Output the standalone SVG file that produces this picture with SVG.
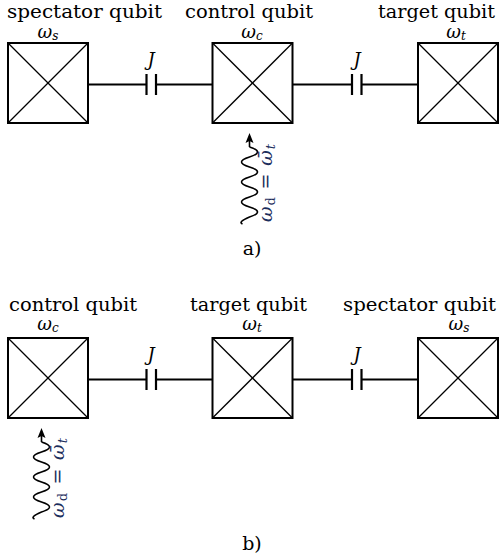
<svg xmlns="http://www.w3.org/2000/svg" width="500" height="559" viewBox="0 0 500 559">
<style>
.box{fill:#fff;stroke:#000;stroke-width:2}
.diag{stroke:#000;stroke-width:1.3}
.wire{stroke:#000;stroke-width:2;fill:none}
.plate{stroke:#000;stroke-width:2.2}
text{font-family:'DejaVu Serif','Liberation Serif',serif}
.lbl{font-size:19px;fill:#000}
.om{font-size:18px;font-style:italic;fill:#000}
.sub{font-size:12px}
.drv{font-size:19px;fill:#1c2d5c}
.wave{stroke:#000;stroke-width:1.6;fill:none}
</style>
<defs>
<g id="qb">
<rect class="box" x="0" y="0" width="80" height="80"/>
<line class="diag" x1="0" y1="0" x2="80" y2="80"/>
<line class="diag" x1="80" y1="0" x2="0" y2="80"/>
</g>
<path id="wv" class="wave" d="M0,0 Q16,5 0,10 T0,20 T0,30 T0,40 T0,50 T0,60 T0,70 Q-12,75 -7,77"/>
</defs>

<!-- panel a -->
<g id="connectors-a">
<line class="wire" x1="88" y1="84.5" x2="146.5" y2="84.5"/>
<line class="plate" x1="146.5" y1="74" x2="146.5" y2="95"/>
<line class="plate" x1="156" y1="74" x2="156" y2="95"/>
<line class="wire" x1="156" y1="84.5" x2="212" y2="84.5"/>
<line class="wire" x1="293" y1="84.5" x2="352" y2="84.5"/>
<line class="plate" x1="352" y1="74" x2="352" y2="95"/>
<line class="plate" x1="361.5" y1="74" x2="361.5" y2="95"/>
<line class="wire" x1="361.5" y1="84.5" x2="418" y2="84.5"/>
<text class="om" x="151" y="66" text-anchor="middle">J</text>
<text class="om" x="357" y="66" text-anchor="middle">J</text>
</g>
<g id="a-spectator">
<use href="#qb" x="8" y="43"/>
<text class="lbl" x="7" y="18" textLength="155" lengthAdjust="spacingAndGlyphs">spectator qubit</text>
<text class="om" x="48" y="37.5" text-anchor="middle">ω<tspan class="sub" dy="2">s</tspan></text>
</g>
<g id="a-control">
<use href="#qb" x="212.5" y="43"/>
<text class="lbl" x="185" y="18" textLength="128" lengthAdjust="spacingAndGlyphs">control qubit</text>
<text class="om" x="252" y="37.5" text-anchor="middle">ω<tspan class="sub" dy="2">c</tspan></text>
</g>
<g id="a-target">
<use href="#qb" x="418" y="43"/>
<text class="lbl" x="378" y="18" textLength="117" lengthAdjust="spacingAndGlyphs">target qubit</text>
<text class="om" x="456" y="37.5" text-anchor="middle">ω<tspan class="sub" dy="2">t</tspan></text>
</g>
<g id="a-drive">
<line class="wave" x1="249.5" y1="141" x2="249.5" y2="147"/>
<polygon points="249.5,133 245.5,143 249.5,141 253.5,143" fill="#000"/>
<use href="#wv" x="249.5" y="147"/>
<text class="drv" transform="translate(272,183) rotate(-90)" text-anchor="middle" textLength="78"><tspan font-style="italic">ω</tspan><tspan font-size="13" dy="3">d</tspan><tspan dy="-3"> = </tspan><tspan font-style="italic">ω̄</tspan><tspan font-style="italic" font-size="13" dy="3">t</tspan></text>
</g>
<text class="lbl" x="252" y="255" text-anchor="middle">a)</text>

<!-- panel b -->
<g id="connectors-b">
<line class="wire" x1="88" y1="379.5" x2="146.5" y2="379.5"/>
<line class="plate" x1="146.5" y1="369" x2="146.5" y2="390"/>
<line class="plate" x1="156" y1="369" x2="156" y2="390"/>
<line class="wire" x1="156" y1="379.5" x2="212" y2="379.5"/>
<line class="wire" x1="293" y1="379.5" x2="352" y2="379.5"/>
<line class="plate" x1="352" y1="369" x2="352" y2="390"/>
<line class="plate" x1="361.5" y1="369" x2="361.5" y2="390"/>
<line class="wire" x1="361.5" y1="379.5" x2="418" y2="379.5"/>
<text class="om" x="151" y="361" text-anchor="middle">J</text>
<text class="om" x="357" y="361" text-anchor="middle">J</text>
</g>
<g id="b-control">
<use href="#qb" x="8" y="338"/>
<text class="lbl" x="9" y="311" textLength="128" lengthAdjust="spacingAndGlyphs">control qubit</text>
<text class="om" x="48" y="330" text-anchor="middle">ω<tspan class="sub" dy="2">c</tspan></text>
</g>
<g id="b-target">
<use href="#qb" x="212.5" y="338"/>
<text class="lbl" x="190" y="311" textLength="117" lengthAdjust="spacingAndGlyphs">target qubit</text>
<text class="om" x="252" y="330" text-anchor="middle">ω<tspan class="sub" dy="2">t</tspan></text>
</g>
<g id="b-spectator">
<use href="#qb" x="418" y="338"/>
<text class="lbl" x="343" y="311" textLength="153" lengthAdjust="spacingAndGlyphs">spectator qubit</text>
<text class="om" x="459" y="330" text-anchor="middle">ω<tspan class="sub" dy="2">s</tspan></text>
</g>
<g id="b-drive">
<line class="wave" x1="41.5" y1="436" x2="41.5" y2="442"/>
<polygon points="41.5,428 37.5,438 41.5,436 45.5,438" fill="#000"/>
<use href="#wv" x="41.5" y="442"/>
<text class="drv" transform="translate(64,478) rotate(-90)" text-anchor="middle" textLength="80"><tspan font-style="italic">ω</tspan><tspan font-size="13" dy="3">d</tspan><tspan dy="-3"> = </tspan><tspan font-style="italic">ω̄</tspan><tspan font-style="italic" font-size="13" dy="3">t</tspan></text>
</g>
<text class="lbl" x="252" y="550" text-anchor="middle">b)</text>
</svg>
